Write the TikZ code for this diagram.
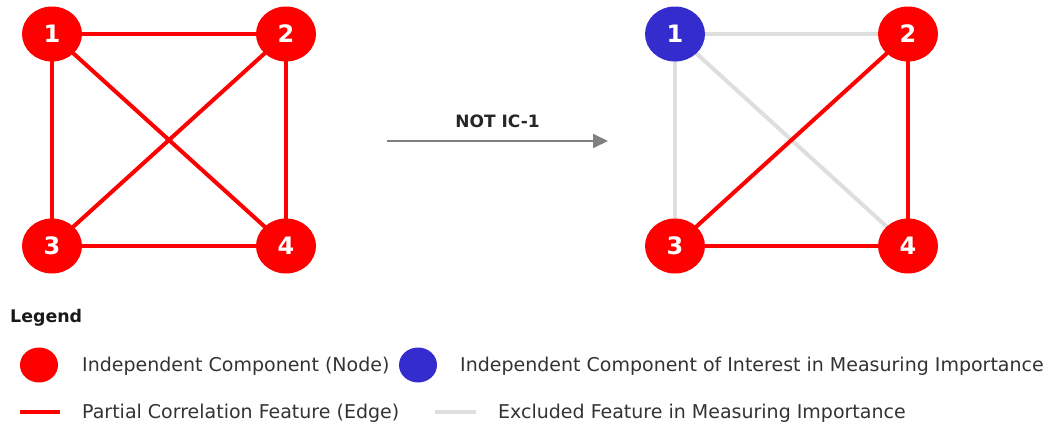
\documentclass[tikz,border=0pt]{standalone}
\usepackage{fontspec}
\setmainfont{DejaVu Sans}
\usetikzlibrary{shapes.geometric,arrows.meta}
\definecolor{nred}{RGB}{255,0,0}
\definecolor{nblue}{RGB}{52,44,204}
\definecolor{egray}{RGB}{222,222,222}
\definecolor{agray}{RGB}{128,128,128}
\definecolor{ltext}{RGB}{51,51,51}
\tikzset{
  gnode/.style={ellipse, fill=#1, draw=none, minimum width=60pt, minimum height=55pt, inner sep=0pt,
    text=white, font=\fontsize{24}{26}\selectfont\bfseries},
  redge/.style={draw=nred, line width=4pt},
  gedge/.style={draw=egray, line width=4pt},
  legdot/.style={ellipse, fill=#1, draw=none, minimum width=38pt, minimum height=35pt, inner sep=0pt},
  legtext/.style={anchor=base west, text=ltext, inner sep=0pt, font=\fontsize{19}{22}\selectfont},
}
\begin{document}
\begin{tikzpicture}[x=1pt,y=-1pt]
\useasboundingbox (0,0) rectangle (1045,423);
% left graph
\coordinate (p1) at (52,34);
\coordinate (p2) at (286,34);
\coordinate (p3) at (52,246);
\coordinate (p4) at (286,246);
\draw[redge] (p1) -- (p2);
\draw[redge] (p1) -- (p3);
\draw[redge] (p1) -- (p4);
\draw[redge] (p2) -- (p3);
\draw[redge] (p2) -- (p4);
\draw[redge] (p3) -- (p4);
\node[gnode=nred] (a1) at (p1) {1};
\node[gnode=nred] (a2) at (p2) {2};
\node[gnode=nred] (a3) at (p3) {3};
\node[gnode=nred] (a4) at (p4) {4};
% right graph
\coordinate (b1) at (675,34);
\coordinate (b2) at (908,34);
\coordinate (b3) at (675,246);
\coordinate (b4) at (908,246);
\draw[gedge] (b1) -- (b2);
\draw[gedge] (b1) -- (b3);
\draw[gedge] (b1) -- (b4);
\draw[redge] (b2) -- (b3);
\draw[redge] (b2) -- (b4);
\draw[redge] (b3) -- (b4);
\node[gnode=nblue] (c1) at (b1) {1};
\node[gnode=nred] (c2) at (b2) {2};
\node[gnode=nred] (c3) at (b3) {3};
\node[gnode=nred] (c4) at (b4) {4};
% arrow
\coordinate (s) at (387,141);
\coordinate (t) at (608,141);
\draw[draw=agray, line width=2pt, -{Triangle[length=15pt,width=14pt]}] (s) -- (t)
  node[midway, above=9pt, text=black!85, font=\fontsize{17}{19}\selectfont\bfseries] (lab) {NOT IC-1};
% legend
\node[anchor=base west, inner sep=0pt, text=black!90, font=\fontsize{17.4}{20}\selectfont\bfseries] (leg) at (10,322) {Legend};
\node[legdot=nred] (l1) at (39,365) {};
\node[legtext] (t1) at (82,371) {Independent Component (Node)};
\node[legdot=nblue] (l2) at (418,365) {};
\node[legtext] (t2) at (460,371) {Independent Component of Interest in Measuring Importance};
\coordinate (r1) at (20,412);
\coordinate (r2) at (60,412);
\draw[redge] (r1) -- (r2);
\node[legtext] (t3) at (82,418) {Partial Correlation Feature (Edge)};
\coordinate (g1) at (435,412);
\coordinate (g2) at (476,412);
\draw[gedge] (g1) -- (g2);
\node[legtext] (t4) at (498,418) {Excluded Feature in Measuring Importance};
\end{tikzpicture}
\end{document}
